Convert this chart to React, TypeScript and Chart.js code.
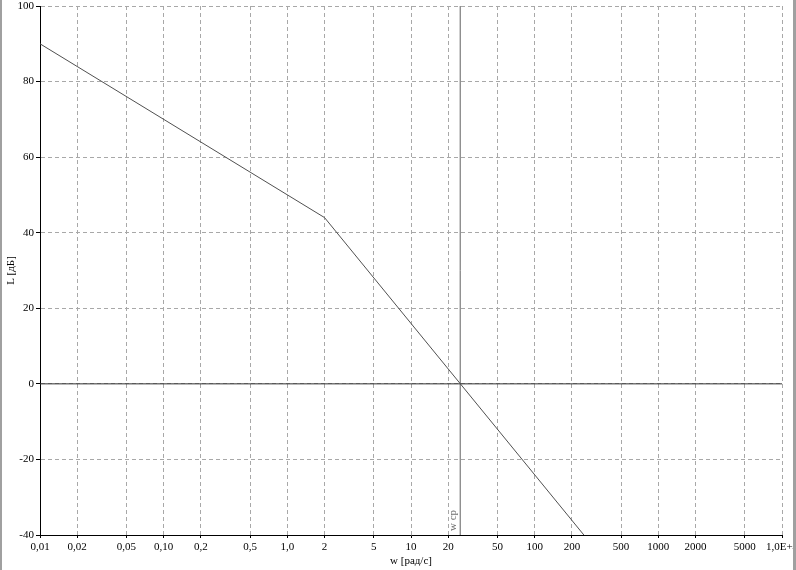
import React, { useEffect, useRef } from "react";
import { Chart, registerables } from "chart.js";

Chart.register(...registerables);

const freqPoints = [0.01, 2, 250];
const levelPoints = [90, 44, -40];
const crossoverFreq = 25;
const crossoverLabel = "w ср";
const xTickValues = [0.01, 0.02, 0.05, 0.1, 0.2, 0.5, 1, 2, 5, 10, 20, 50, 100, 200, 500, 1000, 2000, 5000, 10000];
const xTickLabels = ["0,01", "0,02", "0,05", "0,10", "0,2", "0,5", "1,0", "2", "5", "10", "20", "50", "100", "200", "500", "1000", "2000", "5000", "1,0E+4"];
const yMin = -40;
const yMax = 100;
const yStep = 20;
const xTitle = "w [рад/с]";
const yTitle = "L [дБ]";

const FONT = "'Liberation Serif', 'Times New Roman', serif";

export default function App() {
  const ref = useRef<HTMLCanvasElement | null>(null);

  useEffect(() => {
    if (!ref.current) return;
    const labelPlugin = {
      id: "wcpLabel",
      afterDatasetsDraw(chart: any) {
        const ctx = chart.ctx;
        const xs = chart.scales.x;
        const px = xs.getPixelForValue(crossoverFreq);
        const bottom = chart.chartArea.bottom;
        ctx.save();
        ctx.translate(px - 7, bottom - 4);
        ctx.rotate(-Math.PI / 2);
        ctx.font = "11px " + FONT;
        ctx.fillStyle = "#707070";
        ctx.textAlign = "left";
        ctx.textBaseline = "middle";
        ctx.fillText(crossoverLabel, 0, 0);
        ctx.restore();
      },
    };

    const chart = new Chart(ref.current, {
      type: "line",
      data: {
        datasets: [
          {
            data: freqPoints.map((f, i) => ({ x: f, y: levelPoints[i] })),
            borderColor: "#505050",
            borderWidth: 1,
            pointRadius: 0,
            fill: false,
            tension: 0,
          },
          {
            data: [
              { x: xTickValues[0], y: 0 },
              { x: xTickValues[xTickValues.length - 1], y: 0 },
            ],
            borderColor: "#303030",
            borderWidth: 1,
            pointRadius: 0,
            fill: false,
          },
          {
            data: [
              { x: crossoverFreq, y: yMin },
              { x: crossoverFreq, y: yMax },
            ],
            borderColor: "#606060",
            borderWidth: 1,
            pointRadius: 0,
            fill: false,
          },
        ],
      },
      options: {
        responsive: false,
        animation: false,
        devicePixelRatio: 1,
        layout: { padding: { left: 0, top: 6, right: 14, bottom: 0 } },
        plugins: { legend: { display: false }, tooltip: { enabled: false } },
        scales: {
          x: {
            type: "logarithmic",
            min: xTickValues[0],
            max: xTickValues[xTickValues.length - 1],
            afterBuildTicks: (s: any) => {
              s.ticks = xTickValues.map((v) => ({ value: v }));
            },
            afterFit: (s: any) => {
              s.height = 35;
              s.paddingLeft = 0;
              s.paddingRight = 0;
            },
            ticks: {
              autoSkip: false,
              maxRotation: 0,
              minRotation: 0,
              padding: 3,
              color: "#000",
              font: { family: FONT, size: 11 },
              callback: (_v: any, i: number) => xTickLabels[i],
            },
            grid: {
              color: "#a8a8a8",
              tickColor: "#000",
              tickLength: 3,
              lineWidth: 1,
            },
            border: { display: true, color: "#000", width: 1, dash: [4, 3] },
            title: {
              display: true,
              text: xTitle,
              color: "#000",
              font: { family: FONT, size: 11 },
              padding: { top: 0, bottom: 2 },
            },
          },
          y: {
            type: "linear",
            min: yMin,
            max: yMax,
            afterFit: (s: any) => {
              s.width = 40;
              s.paddingTop = 0;
              s.paddingBottom = 0;
            },
            ticks: {
              stepSize: yStep,
              padding: 2,
              color: "#000",
              font: { family: FONT, size: 11 },
            },
            grid: {
              color: "#a8a8a8",
              tickColor: "#000",
              tickLength: 4,
              lineWidth: 1,
            },
            border: { display: true, color: "#000", width: 1, dash: [4, 3] },
            title: {
              display: true,
              text: yTitle,
              color: "#000",
              font: { family: FONT, size: 11 },
              padding: { top: 5, bottom: 0 },
            },
          },
        },
      },
      plugins: [labelPlugin],
    } as any);
    return () => chart.destroy();
  }, []);

  return (
    <div style={{ position: "absolute", left: 0, top: 0, width: 796, height: 570, background: "#fff", overflow: "hidden" }}>
      <canvas ref={ref} width={796} height={570} style={{ width: 796, height: 570, display: "block" }} />
      <div style={{ position: "absolute", left: 0, top: 0, width: 2, height: 570, background: "#a0a0a0" }} />
      <div style={{ position: "absolute", left: 793, top: 0, width: 3, height: 570, background: "#a0a0a0" }} />
    </div>
  );
}
